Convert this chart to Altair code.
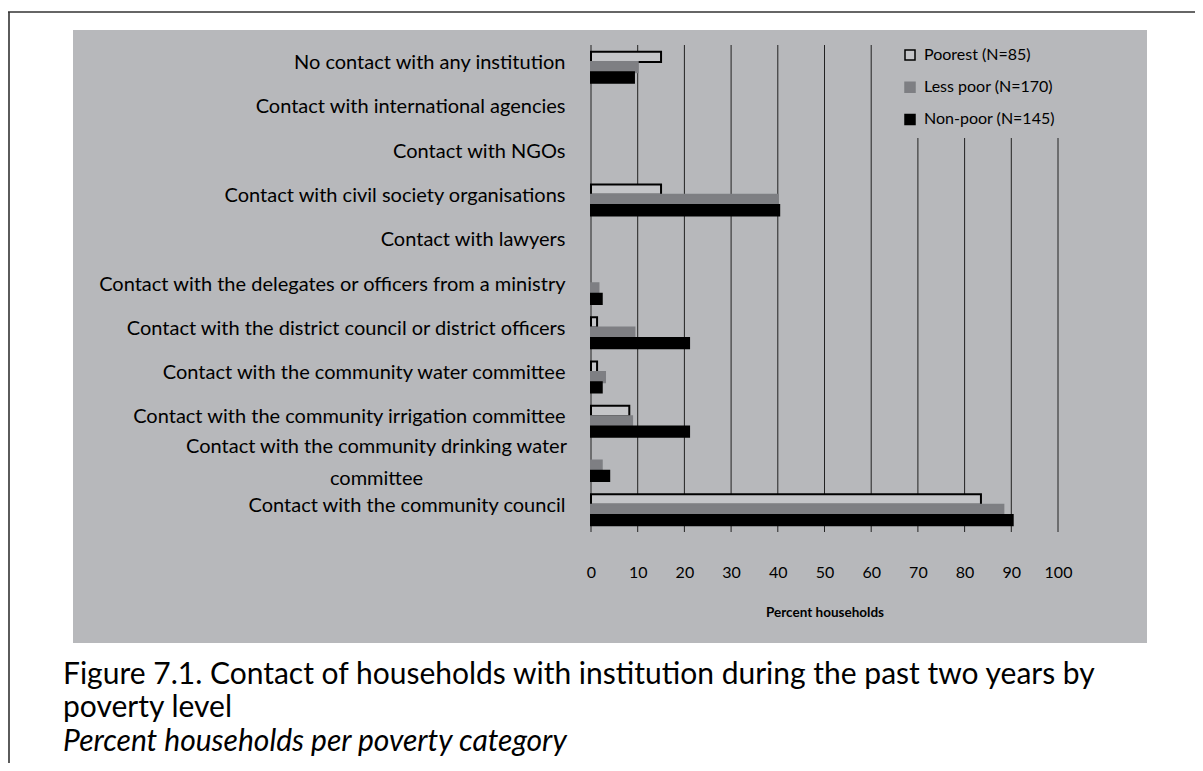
import altair as alt
import pandas as pd

categories = [
    "No contact with any institution",
    "Contact with international agencies",
    "Contact with NGOs",
    "Contact with civil society organisations",
    "Contact with lawyers",
    "Contact with the delegates or officers from a ministry",
    "Contact with the district council or district officers",
    "Contact with the community water committee",
    "Contact with the community irrigation committee",
    "Contact with the community drinking water committee",
    "Contact with the community council",
]
series = ["Poorest (N=85)", "Less poor (N=170)", "Non-poor (N=145)"]
poorest = [15, 0, 0, 15, 0, 0, 1.3, 1.3, 8.2, 0, 83.5]
less_poor = [10, 0, 0, 40, 0, 1.6, 9.3, 3.0, 8.8, 2.3, 88.3]
non_poor = [9.2, 0, 0, 40.3, 0, 2.3, 21, 2.3, 21, 3.9, 90.3]
x_ticks = [0, 10, 20, 30, 40, 50, 60, 70, 80, 90, 100]
caption_lines = [
    "Figure 7.1. Contact of households with institution during the past two years by",
    "poverty level",
]
caption_sub = "Percent households per poverty category"
x_title = "Percent households"

BG = "#B7B8BB"
FONT = "Lato"
TWO_LINE = "Contact with the community drinking water committee"

rows = []
for name, vals in zip(series, [poorest, less_poor, non_poor]):
    for c, v in zip(categories, vals):
        rows.append({"category": c, "series": name, "value": v})
df = pd.DataFrame(rows)
one = pd.DataFrame({"k": [0]})
ticks_df = pd.DataFrame({"t": x_ticks})

W, H = 467, 487

xscale = alt.Scale(domain=[0, 100], nice=False, zero=True)

panel = alt.Chart(one).mark_rect(color=BG).encode(
    x=alt.value(-518), x2=alt.value(556), y=alt.value(-15), y2=alt.value(598)
)
top_border = alt.Chart(one).mark_rule(color="#333333", strokeWidth=1.6).encode(
    x=alt.value(-590), x2=alt.value(610), y=alt.value(-33)
)
left_border = alt.Chart(one).mark_rule(color="#333333", strokeWidth=1.6).encode(
    x=alt.value(-582), y=alt.value(-33), y2=alt.value(730)
)

xaxis = alt.Axis(values=x_ticks, grid=False, domain=False, ticks=False, zindex=1,
                 labelPadding=32, labelFontSize=16, labelFont=FONT, labelFlush=False,
                 labelColor="black", title=x_title, titleFont=FONT,
                 titleFontSize=13.5, titleFontWeight="bold",
                 titleColor="black", titlePadding=25)

grid = alt.Chart(ticks_df).mark_rule(color="#222222", strokeWidth=1).encode(
    x=alt.X("t:Q", scale=xscale, axis=xaxis, title=x_title)
)

label_expr = ("datum.value == '" + TWO_LINE +
              "' ? ['Contact with the community drinking water', 'committee'] : datum.value")
is_two = "datum.value == '" + TWO_LINE + "'"

legend = alt.Legend(title=None, orient="none", legendX=301, legendY=-8,
                    symbolType="square", symbolSize=100,
                    symbolStrokeWidth=1.5, labelFont=FONT,
                    labelFontSize=16, labelColor="black",
                    rowPadding=16.2, labelOffset=6,
                    fillColor=BG, padding=10)

bars = alt.Chart(df).transform_filter("datum.value > 0").mark_bar(strokeWidth=2).encode(
    x=alt.X("value:Q", scale=xscale, axis=xaxis, title=x_title),
    y=alt.Y("category:N", sort=categories,
            scale=alt.Scale(domain=categories, paddingInner=0.3, paddingOuter=0.15),
            axis=alt.Axis(title=None, domain=False, ticks=False, grid=False, zindex=1,
                          labelFont=FONT, labelFontSize=20, labelColor="black",
                          labelLimit=0, labelLineHeight=32,
                          labelExpr=label_expr,
                          labelOffset={"condition": {"test": is_two, "value": -19}, "value": -4},
                          labelAlign={"condition": {"test": is_two, "value": "center"}, "value": "right"},
                          labelPadding={"condition": {"test": is_two, "value": 215}, "value": 26})),
    yOffset=alt.YOffset("series:N", sort=series, scale=alt.Scale(domain=series, paddingInner=0, paddingOuter=0)),
    fill=alt.Fill("series:N", sort=series,
                  scale=alt.Scale(domain=series, range=["#C4C5C8", "#7E7F83", "#000000"]),
                  legend=legend),
    stroke=alt.Stroke("series:N", sort=series,
                      scale=alt.Scale(domain=series, range=["#000000", "#7E7F83", "#000000"]),
                      legend=legend),
)

cap_kw = dict(font=FONT, fontSize=30, align="left", baseline="alphabetic", color="black")
cap1 = alt.Chart(one).mark_text(text=caption_lines[0], **cap_kw).encode(
    x=alt.value(-528), y=alt.value(639))
cap2 = alt.Chart(one).mark_text(text=caption_lines[1], **cap_kw).encode(
    x=alt.value(-528), y=alt.value(672))
cap3 = alt.Chart(one).mark_text(text=caption_sub, fontStyle="italic", **cap_kw).encode(
    x=alt.value(-528), y=alt.value(706))

chart = alt.layer(panel, top_border, left_border, grid, bars, cap1, cap2, cap3).properties(
    width=W, height=H,
    padding={"left": 583, "top": 37, "right": 137, "bottom": 231},
    autosize=alt.AutoSizeParams(type="none"),
    background="white",
).configure_view(stroke=None)

chart.save("out.html", embed_options={"renderer": "svg", "actions": False})
